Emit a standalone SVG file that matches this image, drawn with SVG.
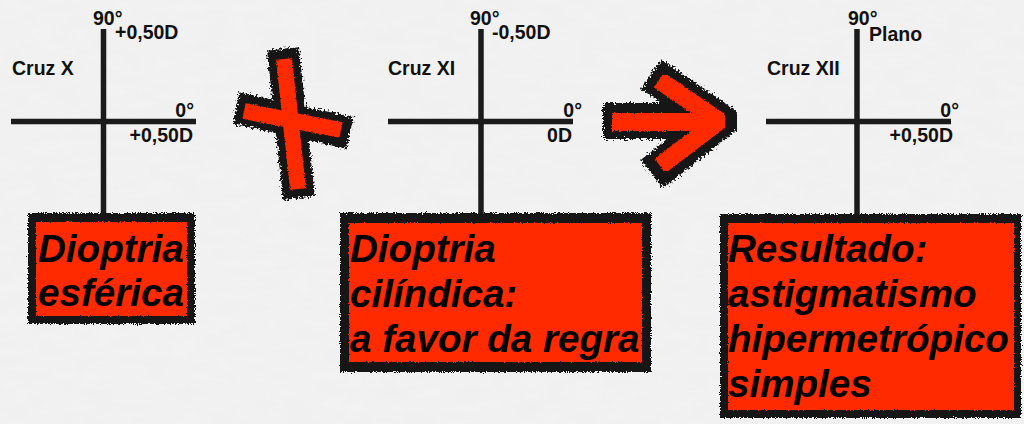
<svg xmlns="http://www.w3.org/2000/svg" width="1024" height="424" viewBox="0 0 1024 424">
  <defs>
    <style>
      .lbl { font-family: "Liberation Sans", Arial, sans-serif; font-weight: bold; font-size: 19.5px; fill: #111; }
      .big { font-family: "Liberation Sans", Arial, sans-serif; font-weight: bold; font-style: italic; font-size: 38.6px; fill: #000; }
      .axis { stroke: #1b1b1b; stroke-width: 5.5; fill: none; }
      .boxOuter { fill: #141414; filter: url(#rough); }
      .boxInner { fill: #ff2a00; filter: url(#roughFine); }
      .brushBlack { stroke: #141414; fill: none; filter: url(#brush); }
      .brushRed { stroke: #ff2a00; fill: none; filter: url(#roughFine); }
    </style>
    <filter id="paper" x="0" y="0" width="100%" height="100%">
      <feTurbulence type="fractalNoise" baseFrequency="0.035 0.07" numOctaves="3" seed="4"/>
      <feColorMatrix type="matrix" values="0 0 0 0 0.55  0 0 0 0 0.55  0 0 0 0 0.55  0 0 0 0.09 0"/>
    </filter>
    <filter id="rough" x="-5%" y="-5%" width="110%" height="110%">
      <feTurbulence type="fractalNoise" baseFrequency="0.9" numOctaves="2" seed="7"/>
      <feDisplacementMap in="SourceGraphic" scale="5" xChannelSelector="R" yChannelSelector="G"/>
    </filter>
    <filter id="roughFine" x="-5%" y="-5%" width="110%" height="110%">
      <feTurbulence type="fractalNoise" baseFrequency="0.7" numOctaves="2" seed="11"/>
      <feDisplacementMap in="SourceGraphic" scale="3" xChannelSelector="R" yChannelSelector="G"/>
    </filter>
    <filter id="brush" x="-15%" y="-15%" width="130%" height="130%">
      <feTurbulence type="fractalNoise" baseFrequency="0.5" numOctaves="3" seed="5"/>
      <feDisplacementMap in="SourceGraphic" scale="9" xChannelSelector="R" yChannelSelector="G"/>
    </filter>
  </defs>

  <rect x="0" y="0" width="1024" height="424" fill="#f3f3f3"/>
  <rect x="0" y="0" width="1024" height="424" filter="url(#paper)"/>

  <g id="connectors">
    <path class="axis" d="M103.5,29 V214 M11,121.5 H196"/>
    <path class="axis" d="M481,29 V214 M388,121.5 H573"/>
    <path class="axis" d="M857,29 V215 M766,121.5 H951"/>
  </g>

  <g id="cross1">
    <text class="lbl" x="93" y="25">90°</text>
    <text class="lbl" x="115" y="38.5">+0,50D</text>
    <text class="lbl" x="12" y="75">Cruz X</text>
    <text class="lbl" x="194" y="117" text-anchor="end">0°</text>
    <text class="lbl" x="193" y="141.5" text-anchor="end">+0,50D</text>
  </g>

  <g id="cross2">
    <text class="lbl" x="470" y="25">90°</text>
    <text class="lbl" x="492" y="38.5">-0,50D</text>
    <text class="lbl" x="388" y="75">Cruz XI</text>
    <text class="lbl" x="582" y="117" text-anchor="end">0°</text>
    <text class="lbl" x="572" y="141.5" text-anchor="end">0D</text>
  </g>

  <g id="cross3">
    <text class="lbl" x="848" y="25">90°</text>
    <text class="lbl" x="869" y="40.5">Plano</text>
    <text class="lbl" x="767" y="75">Cruz XII</text>
    <text class="lbl" x="959" y="117" text-anchor="end">0°</text>
    <text class="lbl" x="953" y="141.5" text-anchor="end">+0,50D</text>
  </g>

  <g id="plus">
    <path class="brushBlack" stroke-width="32" d="M283,49 L299,198 M236,108 L350,133"/>
    <path class="brushRed" stroke-width="16" d="M284,59 L298,189 M244,111 L341,130"/>
  </g>

  <g id="arrow">
    <path class="brushBlack" stroke-width="36" stroke-linejoin="miter" d="M603,121 H708 M651,74 L719,121 L652,174"/>
    <path class="brushRed" stroke-width="18" stroke-linejoin="miter" d="M612,122 H708 M659,80 L719,121 L660,166"/>
  </g>

  <g id="box1">
    <rect class="boxOuter" x="28" y="213" width="167" height="111"/>
    <rect class="boxInner" x="36" y="222" width="151" height="94"/>
    <text class="big" x="38" y="262">Dioptria</text>
    <text class="big" x="38" y="306">esférica</text>
  </g>

  <g id="box2">
    <rect class="boxOuter" x="340" y="213" width="311" height="159"/>
    <rect class="boxInner" x="349" y="223" width="293" height="139"/>
    <text class="big" x="350" y="262">Dioptria</text>
    <text class="big" x="350" y="307">cilíndica:</text>
    <text class="big" x="350" y="352">a favor da regra</text>
  </g>

  <g id="box3">
    <rect class="boxOuter" x="720" y="214" width="301" height="204"/>
    <rect class="boxInner" x="728" y="223" width="286" height="187"/>
    <text class="big" x="728" y="262">Resultado:</text>
    <text class="big" x="728" y="307">astigmatismo</text>
    <text class="big" x="728" y="352">hipermetrópico</text>
    <text class="big" x="728" y="397">simples</text>
  </g>
</svg>
